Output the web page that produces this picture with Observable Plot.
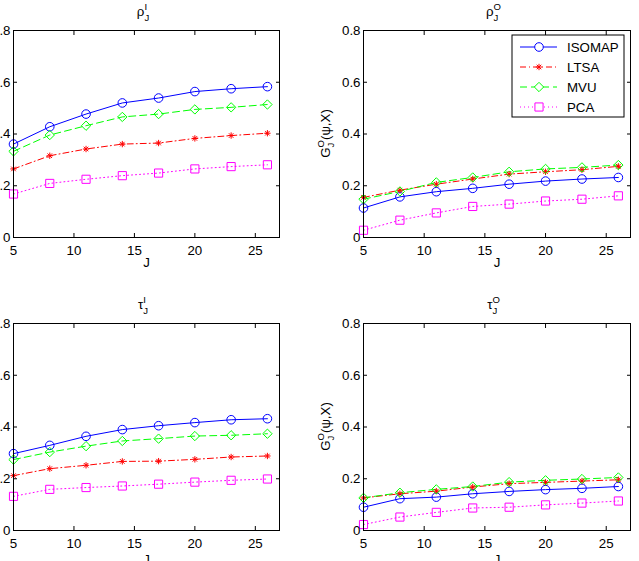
<!DOCTYPE html>
<html><head><meta charset="utf-8">
<script src="https://cdn.jsdelivr.net/npm/d3@7"></script>
<script src="https://cdn.jsdelivr.net/npm/@observablehq/plot@0.6"></script>
<style>
html,body{margin:0;padding:0;background:#fff;}
#fig{position:relative;width:639px;height:561px;overflow:hidden;background:#fff;font-family:"Liberation Sans",Arial,sans-serif;}
#fig svg{position:absolute;}
</style></head><body><div id="fig"></div>
<script>
// ---- data ----
const J = [5, 8, 11, 14, 17, 20, 23, 26];
const methods = ["ISOMAP", "LTSA", "MVU", "PCA"];
const xTicks = [5, 10, 15, 20, 25];
const yTicks = [0, 0.2, 0.4, 0.6, 0.8];

const rhoI_ISOMAP = [0.361, 0.428, 0.477, 0.520, 0.539, 0.564, 0.575, 0.583];
const rhoI_LTSA   = [0.265, 0.316, 0.342, 0.361, 0.365, 0.383, 0.394, 0.403];
const rhoI_MVU    = [0.333, 0.396, 0.432, 0.466, 0.477, 0.495, 0.503, 0.514];
const rhoI_PCA    = [0.168, 0.209, 0.225, 0.239, 0.249, 0.265, 0.274, 0.281];

const rhoO_ISOMAP = [0.114, 0.157, 0.177, 0.190, 0.206, 0.218, 0.226, 0.232];
const rhoO_LTSA   = [0.155, 0.183, 0.206, 0.226, 0.245, 0.254, 0.262, 0.275];
const rhoO_MVU    = [0.148, 0.178, 0.213, 0.232, 0.254, 0.265, 0.271, 0.280];
const rhoO_PCA    = [0.028, 0.067, 0.095, 0.120, 0.129, 0.141, 0.148, 0.161];

const tauI_ISOMAP = [0.297, 0.329, 0.364, 0.390, 0.405, 0.417, 0.428, 0.432];
const tauI_LTSA   = [0.212, 0.239, 0.252, 0.267, 0.268, 0.275, 0.284, 0.288];
const tauI_MVU    = [0.274, 0.303, 0.326, 0.346, 0.355, 0.365, 0.368, 0.374];
const tauI_PCA    = [0.132, 0.159, 0.166, 0.172, 0.179, 0.187, 0.194, 0.199];

const tauO_ISOMAP = [0.090, 0.123, 0.129, 0.142, 0.151, 0.158, 0.163, 0.170];
const tauO_LTSA   = [0.126, 0.142, 0.152, 0.168, 0.181, 0.186, 0.191, 0.196];
const tauO_MVU    = [0.126, 0.146, 0.159, 0.170, 0.187, 0.194, 0.199, 0.205];
const tauO_PCA    = [0.023, 0.052, 0.070, 0.087, 0.090, 0.099, 0.106, 0.114];

// ---- styles ----
const colors = {ISOMAP: "#0000ff", LTSA: "#ff0000", MVU: "#00ff00", PCA: "#ff00ff"};
const dashes = {ISOMAP: null, LTSA: "6,3,1,3", MVU: "7,4", PCA: "1,3"};
const FONT = '"Liberation Sans", Arial, sans-serif';
const FS = 13.3;

const panels = [
  {title: ["ρ", "I", "J"], vals: {ISOMAP: rhoI_ISOMAP, LTSA: rhoI_LTSA, MVU: rhoI_MVU, PCA: rhoI_PCA}, left: -32, top: 0, ylabel: false, legend: false, jdy: 29},
  {title: ["ρ", "O", "J"], vals: {ISOMAP: rhoO_ISOMAP, LTSA: rhoO_LTSA, MVU: rhoO_MVU, PCA: rhoO_PCA}, left: 318, top: 0, ylabel: true, legend: true, jdy: 29},
  {title: ["τ", "I", "J"], vals: {ISOMAP: tauI_ISOMAP, LTSA: tauI_LTSA, MVU: tauI_MVU, PCA: tauI_PCA}, left: -32, top: 293, ylabel: false, legend: false, jdy: 33},
  {title: ["τ", "O", "J"], vals: {ISOMAP: tauO_ISOMAP, LTSA: tauO_LTSA, MVU: tauO_MVU, PCA: tauO_PCA}, left: 318, top: 293, ylabel: true, legend: false, jdy: 33}
];

const starPlusR = 2.2, starTimesR = 2.2;

function markerMarks(m, data, opts = {}) {
  const c = colors[m];
  if (m === "ISOMAP") return [Plot.dot(data, {...opts, symbol: "circle", r: 4.3, stroke: c, fill: "none", strokeWidth: 1})];
  if (m === "MVU") return [Plot.dot(data, {...opts, symbol: "diamond2", r: 4.2, stroke: c, fill: "none", strokeWidth: 1})];
  if (m === "PCA") return [Plot.dot(data, {...opts, symbol: "square", r: 4.6, stroke: c, fill: "none", strokeWidth: 1})];
  return [
    Plot.dot(data, {...opts, symbol: "plus", r: starPlusR, stroke: c, fill: "none", strokeWidth: 1}),
    Plot.dot(data, {...opts, symbol: "times", r: starTimesR, stroke: c, fill: "none", strokeWidth: 1})
  ];
}

const fig = document.getElementById("fig");

function scripted(parent, base, sup, sub, rest, fs) {
  const t = parent.append("text").attr("font-size", fs).attr("font-family", FONT).attr("fill", "black").attr("text-anchor", "middle");
  t.append("tspan").text(base);
  const s1 = t.append("tspan").attr("font-size", fs * 0.72).attr("dy", -fs * 0.42).text(sup);
  const s2 = t.append("tspan").attr("font-size", fs * 0.72).attr("dy", fs * 0.78).text(sub);
  const w1 = s1.node().getComputedTextLength();
  const w2 = s2.node().getComputedTextLength();
  s2.attr("dx", -w1);
  if (rest) t.append("tspan").attr("dy", -fs * 0.36).attr("dx", Math.max(0, w1 - w2)).text(rest);
  return t;
}

panels.forEach(p => {
  const rows = methods.flatMap(m => J.map((x, i) => ({method: m, J: x, v: p.vals[m][i]})));
  const marks = [];
  methods.forEach(m => {
    const d = rows.filter(r => r.method === m);
    marks.push(Plot.line(d, {x: "J", y: "v", stroke: colors[m], strokeWidth: 1, strokeDasharray: dashes[m]}));
  });
  methods.forEach(m => {
    const d = rows.filter(r => r.method === m);
    marks.push(...markerMarks(m, d, {x: "J", y: "v"}));
  });
  marks.push(
    Plot.frame({stroke: "black", strokeWidth: 1}),
    Plot.axisX(xTicks, {anchor: "bottom", tickSize: -4, tickPadding: 12, label: null, tickFormat: d => String(d), fontSize: FS, fill: "black"}),
    Plot.axisX(xTicks, {anchor: "top", tickSize: -4, label: null, tickFormat: () => ""}),
    Plot.axisY(yTicks, {anchor: "left", tickSize: -4, tickPadding: 7, label: null, tickFormat: d => d === 0 ? "0" : d.toFixed(1), fontSize: FS, fill: "black"}),
    Plot.axisY(yTicks, {anchor: "right", tickSize: -4, label: null, tickFormat: () => ""}),
    Plot.text(["J"], {frameAnchor: "bottom", dy: p.jdy, text: d => d, fontSize: FS, fill: "black"})
  );
  const chart = Plot.plot({
    width: p.left < 0 ? 319 : 321,
    height: 277,
    marginLeft: 45,
    marginRight: p.left < 0 ? 8 : 9,
    marginTop: 30,
    marginBottom: 40,
    x: {domain: [5, 27], axis: null},
    y: {domain: [0, 0.8], axis: null},
    style: {background: "transparent", fontFamily: FONT, fontSize: FS + "px", color: "black", overflow: "visible"},
    marks
  });
  chart.style.left = p.left + "px";
  chart.style.top = p.top + "px";
  fig.appendChild(chart);
  const svg = d3.select(chart);
  const fx0 = 45, fx1 = (p.left < 0 ? 319 - 8 : 321 - 9), fy0 = 30, fy1 = 277 - 40;
  // title
  const tt = scripted(svg, p.title[0], p.title[1], p.title[2], null, FS);
  tt.attr("x", (fx0 + fx1) / 2 - 3).attr("y", 16);
  // y label
  if (p.ylabel) {
    const g = svg.append("g").attr("transform", `translate(11.5, ${(fy0 + fy1) / 2}) rotate(-90)`);
    scripted(g, "G", "O", "J", "(ψ,X)", FS);
  }
  // legend
  if (p.legend) {
    const lg = svg.append("g");
    const bx = 194, by = 35, bw = 112, bh = 82;
    lg.append("rect").attr("x", bx).attr("y", by).attr("width", bw).attr("height", bh).attr("fill", "white").attr("stroke", "black").attr("stroke-width", 1);
    methods.forEach((m, i) => {
      const yy = by + 12 + i * 20;
      lg.append("line").attr("x1", bx + 8).attr("x2", bx + 45).attr("y1", yy).attr("y2", yy)
        .attr("stroke", colors[m]).attr("stroke-width", 1).attr("stroke-dasharray", dashes[m]);
      const sym = {ISOMAP: d3.symbolCircle, MVU: d3.symbolDiamond2, PCA: d3.symbolSquare}[m];
      const rr = {ISOMAP: 4.3, MVU: 4.2, PCA: 4.6}[m];
      if (sym) {
        lg.append("path").attr("d", d3.symbol(sym, Math.PI * rr * rr)()).attr("transform", `translate(${bx + 27},${yy})`)
          .attr("fill", "white").attr("stroke", colors[m]).attr("stroke-width", 1);
      } else {
        lg.append("path").attr("d", d3.symbol(d3.symbolPlus, Math.PI * starPlusR * starPlusR)()).attr("transform", `translate(${bx + 27},${yy})`).attr("fill", "none").attr("stroke", colors[m]);
        lg.append("path").attr("d", d3.symbol(d3.symbolTimes, Math.PI * starTimesR * starTimesR)()).attr("transform", `translate(${bx + 27},${yy})`).attr("fill", "none").attr("stroke", colors[m]);
      }
      lg.append("text").attr("x", bx + 55).attr("y", yy).attr("dy", "0.35em").attr("text-anchor", "start")
        .attr("font-size", FS).attr("font-family", FONT).attr("fill", "black").text(m);
    });
  }
});
</script>
</body></html>
